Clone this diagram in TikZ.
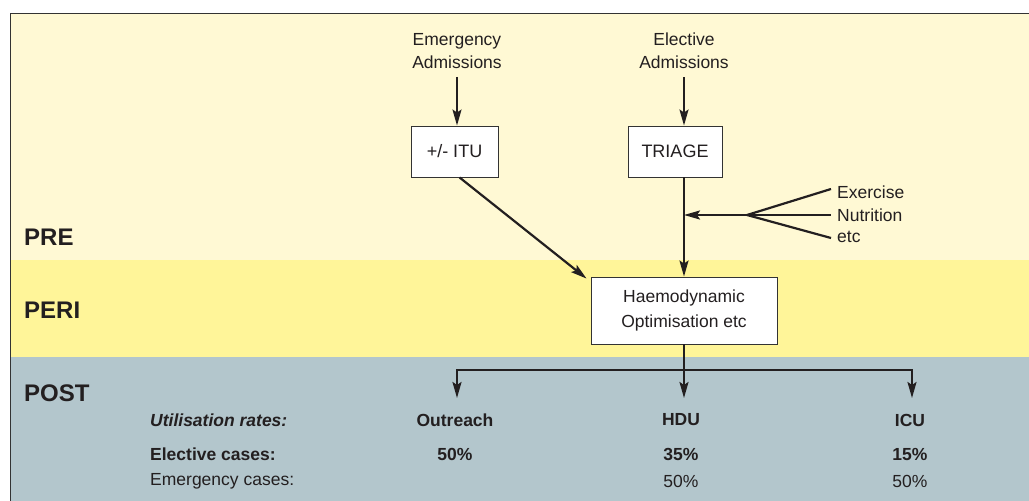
\documentclass[tikz,border=0pt]{standalone}
\usepackage{fontspec}
\setmainfont{Liberation Sans}
\usetikzlibrary{arrows.meta}
\definecolor{prec}{HTML}{FFF9D4}
\definecolor{peric}{HTML}{FFF599}
\definecolor{postc}{HTML}{B3C6CC}
\definecolor{framec}{HTML}{333333}
\definecolor{txt}{HTML}{231F20}
\begin{document}
\begin{tikzpicture}[x=1pt,y=-1pt,
  every node/.style={text=txt},
  box/.style={draw=black!80,line width=0.9pt,fill=white,inner sep=0pt,align=center,font=\fontsize{18}{23}\selectfont},
  lbl/.style={inner sep=0pt,align=center,font=\fontsize{17.5}{23}\selectfont},
  phase/.style={inner sep=0pt,anchor=west,font=\fontsize{24}{28}\selectfont\bfseries},
  tabtxt/.style={inner sep=0pt,font=\fontsize{17.5}{20}\selectfont},
  arr/.style={line width=2.2pt,draw=txt,-{Stealth[length=16pt,width=9pt,inset=3pt]}},
  ln/.style={line width=2.2pt,draw=txt}]
\useasboundingbox (0,0) rectangle (1029,501);
% bands
\fill[prec] (10,13) rectangle (1029,260);
\fill[peric] (10,260) rectangle (1029,357);
\fill[postc] (10,357) rectangle (1029,501);
\draw[framec,line width=1pt] (10,501) -- (10,13) -- (1029,13);
% phase labels
\node[phase] (pre) at (24,237) {PRE};
\node[phase] (peri) at (24,310) {PERI};
\node[phase] (post) at (24,393) {POST};
% top
\node[lbl] (emer) at (457,51) {Emergency\\Admissions};
\node[lbl] (elec) at (684,51) {Elective\\Admissions};
\node[box,minimum width=87pt,minimum height=51pt] (itu) at (454.5,151.5) {+/- ITU};
\node[box,minimum width=94pt,minimum height=51pt] (triage) at (675,151.5) {TRIAGE};
\node[box,minimum width=186pt,minimum height=67pt,font=\fontsize{17.5}{25}\selectfont] (haemo) at (684,310.5) {Haemodynamic\\Optimisation etc};
\draw[arr] ([yshift=-8pt]emer.south) -- (emer.south |- itu.north);
\draw[arr] ([yshift=-8pt]elec.south) -- (elec.south |- triage.north);
\draw[arr] ([xshift=5pt]itu.south) -- ([xshift=-4pt,yshift=-2pt]haemo.north west);
\draw[arr] (elec |- triage.south) -- (haemo.north);
% side inputs
\node[lbl,anchor=west] (ex) at (837,192) {Exercise};
\node[lbl,anchor=west] (nu) at (837,215) {Nutrition};
\node[lbl,anchor=west] (etc) at (837,237) {etc};
\coordinate (fan) at (747,215);
\draw[ln] (fan) -- ([xshift=-6pt,yshift=3pt]ex.west);
\draw[ln] (fan) -- ([xshift=-6pt]nu.west);
\draw[ln] (fan) -- ([xshift=-6pt,yshift=-1pt]etc.west);
\draw[arr] (fan) -- (elec |- fan);
% post branches
\coordinate (bar) at (684,370);
\coordinate (oa) at (457,398);
\coordinate (ha) at (684,398);
\coordinate (ia) at (912,398);
\draw[arr] (haemo.south) -- (ha);
\draw[arr] (bar) -| (oa);
\draw[arr] (bar) -| (ia);
% table
\node[tabtxt,anchor=west,font=\fontsize{17.5}{20}\selectfont\bfseries\itshape] (util) at (150,420) {Utilisation rates:};
\node[tabtxt,font=\fontsize{17.5}{20}\selectfont\bfseries] (outr) at (455,420) {Outreach};
\node[tabtxt,font=\fontsize{17.5}{20}\selectfont\bfseries] (hdu) at (681,420) {HDU};
\node[tabtxt,font=\fontsize{17.5}{20}\selectfont\bfseries] (icu) at (910,420) {ICU};
\node[tabtxt,anchor=west,font=\fontsize{17.5}{20}\selectfont\bfseries] (elc) at (150,454) {Elective cases:};
\node[tabtxt,font=\fontsize{17.5}{20}\selectfont\bfseries] (e1) at (455,454) {50\%};
\node[tabtxt,font=\fontsize{17.5}{20}\selectfont\bfseries] (e2) at (681,454) {35\%};
\node[tabtxt,font=\fontsize{17.5}{20}\selectfont\bfseries] (e3) at (910,454) {15\%};
\node[tabtxt,anchor=west] (emc) at (150,481) {Emergency cases:};
\node[tabtxt] (m2) at (681,481) {50\%};
\node[tabtxt] (m3) at (910,481) {50\%};
\end{tikzpicture}
\end{document}
